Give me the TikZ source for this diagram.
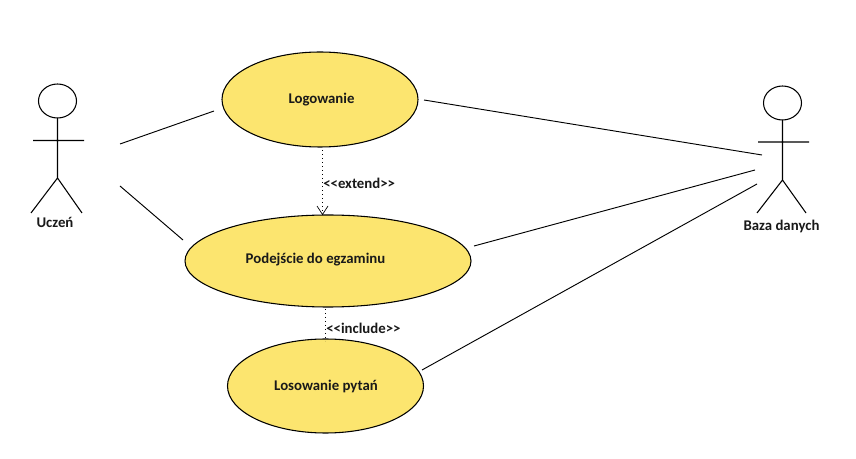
\documentclass[tikz,border=0pt]{standalone}
\usepackage{fontspec}
\newfontfamily\labfont{Carlito}[BoldFont=Carlito Bold]
\definecolor{usecase}{HTML}{FCE56F}
\tikzset{
  x=0.75pt,y=-0.75pt,
  label text/.style={font=\labfont\bfseries\fontsize{11.1pt}{13pt}\selectfont,text=black!90,inner sep=0pt},
  assoc/.style={draw=black,line width=0.7pt},
  stick/.style={draw=black,line width=0.8pt},
  dep/.style={draw=black,line width=0.7pt,dash pattern=on 0.9pt off 2.1pt},
}
\begin{document}
\begin{tikzpicture}
\useasboundingbox (0,0) rectangle (856,459);
\fill[white] (0,0) rectangle (856,459);
% use cases
\draw[stick,fill=usecase] (320,99.5) ellipse [x radius=98,y radius=47.5];
\draw[stick,fill=usecase] (328,261) ellipse [x radius=143,y radius=46];
\draw[stick,fill=usecase] (325.5,386) ellipse [x radius=98,y radius=47];
\node[label text] (log) at (321.5,100) {Logowanie};
\node[label text] (pod) at (315.5,259.5) {Podejście do egzaminu};
\node[label text] (los) at (326,386.5) {Losowanie pytań};
% actors
\draw[stick] (57.5,101) ellipse [x radius=19,y radius=17];
\draw[stick] (57.5,118) -- (57.5,178) (33,140.5) -- (84,140.5) (31,213) -- (57.5,178) -- (82,213);
\node[label text] (uczen) at (55,222) {Uczeń};
\draw[stick] (782.5,103) ellipse [x radius=19,y radius=17];
\draw[stick] (782.5,120) -- (782.5,180) (758,142) -- (809,142) (757,213) -- (782.5,180) -- (806,213);
\node[label text] (baza) at (781.5,226) {Baza danych};
% connector ends
\coordinate (u1) at (120,144); \coordinate (l1) at (214,111);
\coordinate (u2) at (120,186); \coordinate (p1) at (183,240);
\coordinate (l2) at (424,100); \coordinate (b1) at (762,155);
\coordinate (p2) at (474,246); \coordinate (b2) at (755,170);
\coordinate (s1) at (422,370); \coordinate (b3) at (757,184);
\coordinate (e1) at (322.5,150); \coordinate (e2) at (322.5,214.5);
\coordinate (i1) at (325.5,309); \coordinate (i2) at (325.5,341);
\draw[assoc] (u1) -- (l1);
\draw[assoc] (u2) -- (p1);
\draw[assoc] (l2) -- (b1);
\draw[assoc] (p2) -- (b2);
\draw[assoc] (s1) -- (b3);
\draw[dep] (e1) -- (e2);
\draw[draw=black,line width=0.5pt] (317,206) -- (e2) -- (328,206);
\draw[dep] (i1) -- (i2);
\node[label text,anchor=west] (ext) at (323,183.5) {\char60\char60 extend\char62\char62};
\node[label text,anchor=west] (inc) at (326,328) {\char60\char60 include\char62\char62};
\end{tikzpicture}
\end{document}
